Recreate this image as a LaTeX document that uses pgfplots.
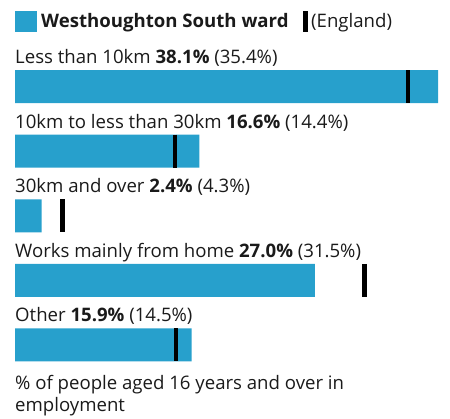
\documentclass[border=0pt]{standalone}
\usepackage{fontspec}
\setmainfont{Open Sans}
\usepackage{pgfplots}
\pgfplotsset{compat=1.18}
\definecolor{wardblue}{HTML}{27A0CC}
\definecolor{txt}{HTML}{1A1A1A}
\begin{document}
\begin{tikzpicture}[font=\fontsize{18.6pt}{22pt}\selectfont, text=txt]
\useasboundingbox (0,0) rectangle (450pt,-419pt);
\begin{axis}[
  at={(15pt,-54.2pt)}, anchor=north west,
  scale only axis, width=423pt, height=323.1pt,
  xmin=0, xmax=38.1, ymin=-0.5, ymax=4.5, y dir=reverse,
  axis lines=none, ticks=none, clip=false,
]
\addplot[xbar, bar width=33pt, bar shift=0pt, fill=wardblue, draw=none]
  coordinates {(38.1,0) (16.6,1) (2.4,2) (27.0,3) (15.9,4)};
\addplot[only marks, mark=|, mark size=16.5pt, mark options={line width=4.6pt, draw=black}]
  coordinates {(35.4,0) (14.4,1) (4.3,2) (31.5,3) (14.5,4)};
\node[anchor=base west, inner sep=0pt, yshift=23pt] at (axis cs:0,0) {Less than 10km \textbf{38.1\%} (35.4\%)};
\node[anchor=base west, inner sep=0pt, yshift=23pt] at (axis cs:0,1) {10km to less than 30km \textbf{16.6\%} (14.4\%)};
\node[anchor=base west, inner sep=0pt, yshift=23pt] at (axis cs:0,2) {30km and over \textbf{2.4\%} (4.3\%)};
\node[anchor=base west, inner sep=0pt, yshift=23pt] at (axis cs:0,3) {Works mainly from home \textbf{27.0\%} (31.5\%)};
\node[anchor=base west, inner sep=0pt, yshift=23pt] at (axis cs:0,4) {Other \textbf{15.9\%} (14.5\%)};
\end{axis}
% legend
\fill[wardblue] (15pt,-10.7pt) rectangle (36.7pt,-31.7pt);
\node[anchor=base west, inner sep=0pt] at (41pt,-27.7pt) {\textbf{Westhoughton South ward}};
\fill[black] (303pt,-11pt) rectangle (307.5pt,-31.7pt);
\node[anchor=base west, inner sep=0pt] at (311pt,-27.7pt) {(England)};
% footnote
\node[anchor=base west, inner sep=0pt] at (15pt,-390pt) {\% of people aged 16 years and over in};
\node[anchor=base west, inner sep=0pt] at (15pt,-411.7pt) {employment};
\end{tikzpicture}
\end{document}
